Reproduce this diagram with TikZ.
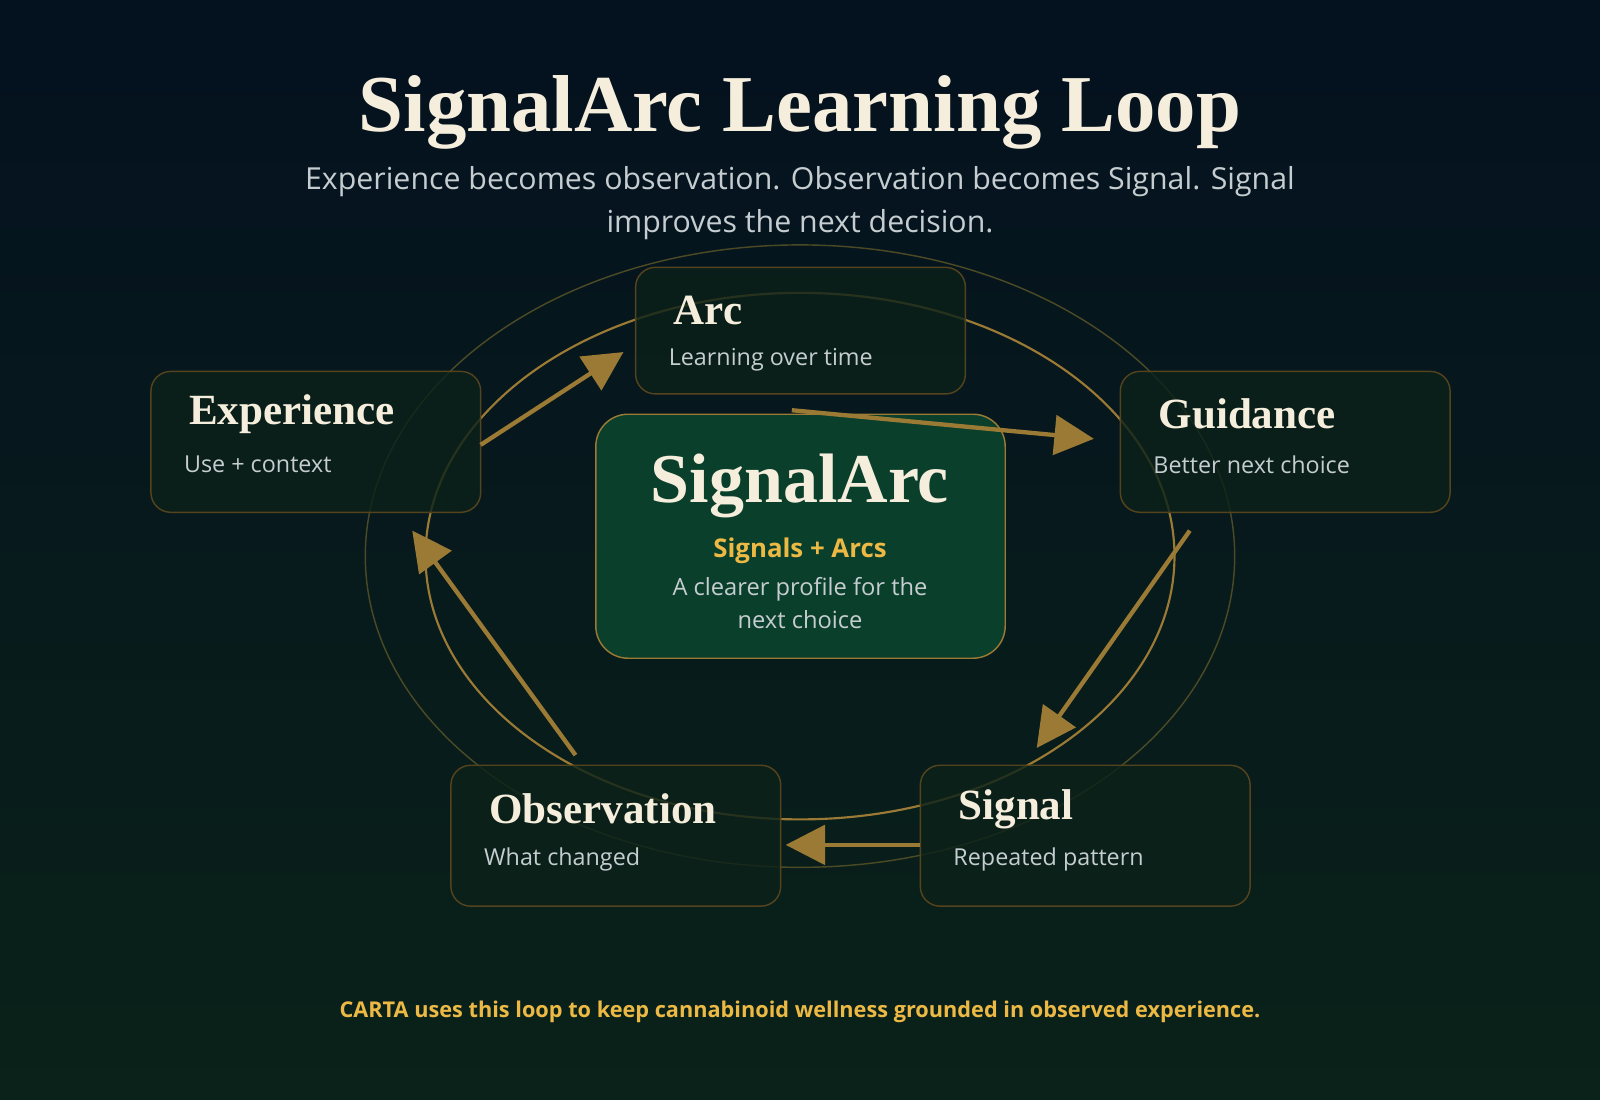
\documentclass[tikz,border=0pt]{standalone}
\usepackage{fontspec}
\setmainfont{Liberation Serif}
\setsansfont{Open Sans}
\usetikzlibrary{arrows.meta,positioning}
\definecolor{bgtop}{HTML}{04111F}
\definecolor{bgbot}{HTML}{0A2219}
\definecolor{cream}{HTML}{F6EEDC}
\definecolor{mist}{HTML}{C5CDD0}
\definecolor{gold}{HTML}{9A7A35}
\definecolor{amber}{HTML}{EDB945}
\definecolor{core}{HTML}{0A3F2B}
\definecolor{card}{HTML}{0B2119}
\tikzset{
  stage/.style={draw=gold!55!black, fill=card, rounded corners=5.5pt, minimum width=3.23cm, inner sep=0pt},
  head/.style={font=\fontsize{12}{14}\selectfont\bfseries, text=cream, anchor=west},
  sub/.style={font=\sffamily\fontsize{6.5}{8}\selectfont, text=mist, anchor=west},
  flow/.style={draw=gold, line width=1.2pt, -{Triangle[length=11pt,width=11pt]}},
}
\begin{document}
\begin{tikzpicture}[x=0.01cm,y=-0.01cm]
\shade[top color=bgtop, bottom color=bgbot] (0,0) rectangle (1568,1078);
\useasboundingbox (0,0) rectangle (1568,1078);

\node[font=\fontsize{22.5}{24}\selectfont\bfseries, text=cream] (title) at (784,110) {SignalArc Learning Loop};
\node[font=\sffamily\fontsize{8.45}{12}\selectfont, text=mist, align=center] (lead) at (784,199)
  {Experience becomes observation. Observation becomes Signal. Signal\\improves the next decision.};

\draw[gold!45!bgbot, line width=0.4pt] (784,545) ellipse [x radius=426, y radius=305];
\draw[gold, line width=0.6pt] (784,545) ellipse [x radius=367, y radius=258];

\node[stage, fill opacity=0.8, minimum height=1.24cm] (arc) at (784.5,324) {};
\node[stage, fill opacity=0.8, minimum height=1.38cm] (exp) at (309.5,433) {};
\node[stage, fill opacity=0.8, minimum height=1.38cm] (gui) at (1259.5,433) {};
\node[stage, fill opacity=0.8, minimum height=1.38cm] (obs) at (603.5,819) {};
\node[stage, fill opacity=0.8, minimum height=1.38cm] (sig) at (1063.5,819) {};

\node[head] at (648,304) {Arc};
\node[sub] at (643,353) {Learning over time};
\node[head] at (173,406) {Experience};
\node[sub] at (168,455) {Use + context};
\node[head] at (1123,406) {Guidance};
\node[sub] at (1118,455) {Better next choice};
\node[head] at (467,793) {Observation};
\node[sub] at (462,842) {What changed};
\node[head] at (927,793) {Signal};
\node[sub] at (922,842) {Repeated pattern};

\node[draw=gold, fill=core, rounded corners=9pt, minimum width=4.01cm, minimum height=2.39cm] (hub) at (784.5,525.5) {};
\node[font=\fontsize{19.5}{21}\selectfont\bfseries, text=cream] at (784,476) {SignalArc};
\node[font=\sffamily\fontsize{7.2}{9}\selectfont\bfseries, text=amber] at (784,540) {Signals + Arcs};
\node[font=\sffamily\fontsize{6.6}{9}\selectfont, text=mist, align=center] at (784,591) {A clearer profile for the\\next choice};

\coordinate (e1) at (471,436); \coordinate (a0) at (611,345);
\coordinate (a1) at (776,402); \coordinate (g0) at (1072,430);
\coordinate (g1) at (1166,520); \coordinate (s0) at (1016,733);
\coordinate (s1) at (902,828); \coordinate (o0) at (770,828);
\coordinate (o1) at (564,740); \coordinate (e0) at (404,520);
\draw[flow] (e1) -- (a0);
\draw[flow] (a1) -- (g0);
\draw[flow] (g1) -- (s0);
\draw[flow] (s1) -- (o0);
\draw[flow] (o1) -- (e0);

\node[font=\sffamily\fontsize{6.05}{8}\selectfont\bfseries, text=amber] (foot) at (784,992)
  {CARTA uses this loop to keep cannabinoid wellness grounded in observed experience.};
\end{tikzpicture}
\end{document}
